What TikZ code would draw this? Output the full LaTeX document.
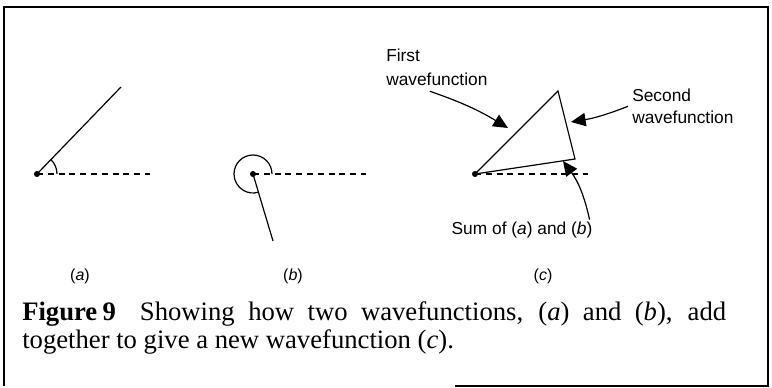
\documentclass[tikz,border=0pt]{standalone}
\usepackage{fontspec}
\setmainfont{Liberation Serif}
\setsansfont{Liberation Sans}
\usepackage{tikz}
\usetikzlibrary{arrows.meta,positioning,calc}

\begin{document}
\begin{tikzpicture}[x=0.75pt,y=-0.75pt,
  vec/.style={line width=0.9pt},
  refline/.style={line width=0.9pt,dash pattern=on 4.5pt off 3.6pt},
  angarc/.style={line width=0.9pt},
  origin/.style={circle,fill=black,inner sep=0pt,minimum size=4.5pt},
  pointer/.style={line width=0.9pt,-{Triangle[length=11pt,width=10pt]}},
  lbl/.style={font=\sffamily\fontsize{13}{18}\selectfont,inner sep=0pt,align=left},
  sublbl/.style={font=\sffamily\fontsize{12}{14}\selectfont,inner sep=0pt}]
\useasboundingbox (0,0) rectangle (772,388);
% frame, bottom edge only partly printed
\draw[line width=1pt] (455,386) -- (768,386) -- (768,7) -- (4,7) -- (4,386);

% (a) first wavefunction
\node[origin] (oa) at (37,174) {};
\coordinate (ta) at (121,87);
\coordinate (ea) at (150,174);
\draw[vec] (oa.center) -- (ta);
\draw[refline] (oa.center) -- (ea);
\draw[angarc] ($(oa.center)+(20,0)$) arc[start angle=0,end angle=-46,radius=20];

% (b) second wavefunction
\node[origin] (ob) at (253,174) {};
\coordinate (tb) at (273,241);
\coordinate (eb) at (366,174);
\draw[vec] (ob.center) -- (tb);
\draw[refline] (ob.center) -- (eb);
\draw[angarc] ($(ob.center)+(19,0)$) arc[start angle=0,end angle=-286.6,radius=19];

% (c) the sum
\node[origin] (oc) at (475,174) {};
\coordinate (pc) at (558,91);
\coordinate (qc) at (575,159);
\coordinate (ec) at (588,174);
\draw[vec] (oc.center) -- (pc) -- (qc) -- cycle;
\draw[refline] (oc.center) -- (ec);

% labels and pointers
\node[lbl,anchor=north west] (first) at (386,49) {First\\wavefunction};
\node[lbl,anchor=north west,font=\sffamily\fontsize{13}{16}\selectfont] (second) at (632,89) {Second\\wavefunction};
\node[lbl] (sum) at (522,230) {Sum of (\textit{a}) and (\textit{b})};
\coordinate (hfirst) at (508,128);
\coordinate (hsecond) at (571,122);
\coordinate (hsum) at (563,161);
\draw[pointer] ($(first.south)+(-7,5)$) to[bend left=6] (hfirst);
\draw[pointer] ($(second.west)+(-4,0)$) to[bend left=6] (hsecond);
\draw[pointer] ($(sum.north east)+(-3,-2)$) to[bend right=12] (hsum);

\node[sublbl] (la) at (80,276) {(\textit{a})};
\node[sublbl] (lb) at (293,276) {(\textit{b})};
\node[sublbl] (lc) at (543,276) {(\textit{c})};

% caption
\node[anchor=north west,inner sep=0pt,text width=528pt,align=justify,
  font=\fontsize{20}{21.5}\selectfont] (caption) at (22,301)
  {\textbf{Figure\hspace{0.2em}9}\hspace{0.9em}Showing how two wavefunctions, (\textit{a}) and (\textit{b}), add\linebreak
   together to give a new wavefunction (\textit{c}).};
\end{tikzpicture}
\end{document}
